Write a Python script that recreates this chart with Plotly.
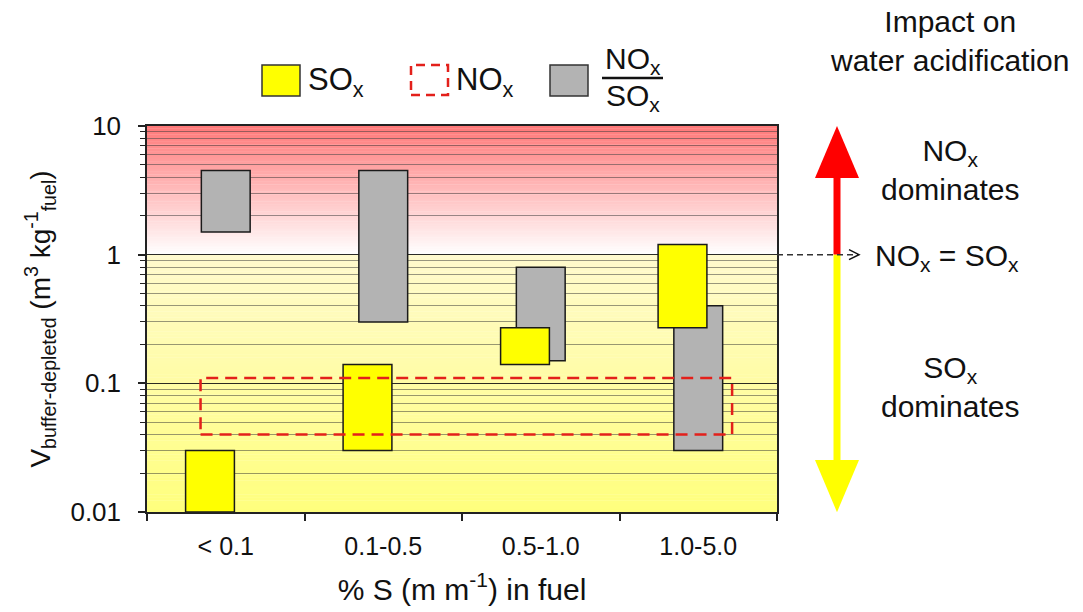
import numpy as np
import plotly.graph_objects as go

# ---------------- data ----------------
categories = ["< 0.1", "0.1-0.5", "0.5-1.0", "1.0-5.0"]
sox_low = [0.01, 0.03, 0.14, 0.27]
sox_high = [0.03, 0.14, 0.27, 1.2]
ratio_low = [1.5, 0.3, 0.15, 0.03]
ratio_high = [4.5, 4.5, 0.8, 0.4]
nox_range = [0.04, 0.11]
y_tick_values = [0.01, 0.1, 1, 10]
y_tick_labels = ["0.01", "0.1", "1", "10"]

# ---------------- layout geometry ----------------
W, H = 1083, 612
L, R, T, B = 147, 777, 126, 512
YMIN, YMAX = -2, 1
FONT = "Liberation Sans, Arial, sans-serif"


def px(x):
    return (x - L) / (R - L)


def py(y):
    return (B - y) / (B - T)


def yfrac(v):
    return (np.log10(v) - YMIN) / (YMAX - YMIN)


fig = go.Figure()

idx = np.arange(len(categories))
ratio_h = np.array(ratio_high) - np.array(ratio_low)
sox_h = np.array(sox_high) - np.array(sox_low)

fig.add_trace(go.Bar(
    x=idx + 0.5, y=ratio_h, base=ratio_low, width=0.31,
    marker=dict(color="#b3b3b3", line=dict(color="#1a1a1a", width=1.5)),
    name="NOx/SOx", showlegend=False, hoverinfo="skip"))
fig.add_trace(go.Bar(
    x=idx + 0.4, y=sox_h, base=sox_low, width=0.31,
    marker=dict(color="#ffff00", line=dict(color="#1a1a1a", width=1.5)),
    name="SOx", showlegend=False, hoverinfo="skip"))

nx0, nx1 = 0.34, 3.715
fig.add_trace(go.Scatter(
    x=[nx0, nx1, nx1, nx0, nx0],
    y=[nox_range[0], nox_range[0], nox_range[1], nox_range[1], nox_range[0]],
    mode="lines", line=dict(color="#e3201b", width=2.5, dash="12px,7px"),
    showlegend=False, hoverinfo="skip"))

shapes = []
# background gradients (paper coords, below grid)
N = 90
top_red = np.array([255, 120, 120])
bot_red = np.array([255, 255, 255])
top_yel = np.array([255, 250, 205])
bot_yel = np.array([255, 255, 125])
f1 = yfrac(1.0)
for i in range(N):
    a0 = f1 + (1 - f1) * i / N
    a1 = f1 + (1 - f1) * (i + 1) / N
    t = (i + 0.5) / N
    c = bot_red + (top_red - bot_red) * t
    shapes.append(dict(type="rect", xref="paper", yref="paper", x0=0, x1=1, y0=a0, y1=a1 + 0.001,
                       fillcolor="rgb(%d,%d,%d)" % tuple(c.round()), line=dict(width=0), layer="below"))
for i in range(N):
    a0 = f1 * i / N
    a1 = f1 * (i + 1) / N
    t = (i + 0.5) / N
    c = bot_yel + (top_yel - bot_yel) * t
    shapes.append(dict(type="rect", xref="paper", yref="paper", x0=0, x1=1, y0=a0, y1=a1 + 0.001,
                       fillcolor="rgb(%d,%d,%d)" % tuple(c.round()), line=dict(width=0), layer="below"))

# legend
shapes.append(dict(type="rect", xref="paper", yref="paper", x0=px(262), x1=px(300), y0=py(96), y1=py(65),
                   fillcolor="#ffff00", line=dict(color="#333", width=1.5)))
shapes.append(dict(type="rect", xref="paper", yref="paper", x0=px(411), x1=px(448), y0=py(95), y1=py(65),
                   fillcolor="rgba(0,0,0,0)", line=dict(color="#e3201b", width=2.5, dash="9px,6px")))
shapes.append(dict(type="rect", xref="paper", yref="paper", x0=px(550), x1=px(588), y0=py(96), y1=py(65),
                   fillcolor="#b3b3b3", line=dict(color="#333", width=1.5)))
shapes.append(dict(type="line", xref="paper", yref="paper", x0=px(602), x1=px(663), y0=py(78), y1=py(78),
                   line=dict(color="#111", width=2.5)))

# impact arrows (right side)
ax_x = px(837)
hw = 22 / (R - L)
shapes.append(dict(type="line", xref="paper", yref="paper", x0=ax_x, x1=ax_x, y0=yfrac(1.0), y1=py(176),
                   line=dict(color="#ff0000", width=7)))
shapes.append(dict(type="path", xref="paper", yref="paper",
                   path="M %f,%f L %f,%f L %f,%f Z" % (ax_x, yfrac(10.0), ax_x - hw, py(178), ax_x + hw, py(178)),
                   fillcolor="#ff0000", line=dict(width=0)))
shapes.append(dict(type="line", xref="paper", yref="paper", x0=ax_x, x1=ax_x, y0=yfrac(1.0), y1=py(462),
                   line=dict(color="#ffff00", width=7)))
shapes.append(dict(type="path", xref="paper", yref="paper",
                   path="M %f,%f L %f,%f L %f,%f Z" % (ax_x, yfrac(0.01) - 0.0005, ax_x - hw, py(460), ax_x + hw, py(460)),
                   fillcolor="#ffff00", line=dict(width=0)))
# dashed pointer at NOx = SOx
shapes.append(dict(type="line", xref="paper", yref="paper", x0=1.0, x1=px(858), y0=yfrac(1.0), y1=yfrac(1.0),
                   line=dict(color="#333", width=1.5, dash="6px,4px")))
shapes.append(dict(type="path", xref="paper", yref="paper",
                   path="M %f,%f L %f,%f L %f,%f" % (px(849), yfrac(1.0) + 5 / (B - T), px(859), yfrac(1.0),
                                                     px(849), yfrac(1.0) - 5 / (B - T)),
                   line=dict(color="#111", width=1.5)))

annotations = []


def add_text(text, x, y, size, xanchor="center", yanchor="middle"):
    annotations.append(dict(text=text, x=px(x), y=py(y), xref="paper", yref="paper", showarrow=False,
                            xanchor=xanchor, yanchor=yanchor, align="center",
                            font=dict(family=FONT, size=size, color="#111")))


add_text("SO<sub>x</sub>", 306, 82, 31, xanchor="left")
add_text("NO<sub>x</sub>", 454, 82, 31, xanchor="left")
add_text("NO<sub>x</sub>", 633, 60, 30)
add_text("SO<sub>x</sub>", 633, 98, 30)
add_text("Impact on<br>water acidification", 949, 41, 30)
add_text("NO<sub>x</sub><br>dominates", 950, 170, 30)
add_text("NO<sub>x</sub> = SO<sub>x</sub>", 873, 257, 30, xanchor="left")
add_text("SO<sub>x</sub><br>dominates", 950, 387, 30)

minor_y = [m * 10.0 ** e for e in range(YMIN, YMAX) for m in range(2, 10)]

fig.update_layout(
    width=W, height=H,
    margin=dict(l=L, r=W - R, t=T, b=H - B, autoexpand=False),
    paper_bgcolor="white", plot_bgcolor="white",
    barmode="overlay", showlegend=False,
    font=dict(family=FONT, color="#111"),
    shapes=shapes, annotations=annotations,
    xaxis=dict(
        range=[0, 4], tickmode="array", tickvals=list(idx + 0.5), ticktext=categories,
        ticks="", showgrid=False, zeroline=False,
        showline=True, linecolor="#222", linewidth=1.5, mirror=True,
        tickfont=dict(family=FONT, size=25, color="#111"), ticklabelstandoff=11,
        minor=dict(tickmode="array", tickvals=[0, 1, 2, 3, 4], ticks="outside", ticklen=7,
                   tickcolor="#222", tickwidth=1.5, showgrid=False),
        title=dict(text="% S (m m<sup>-1</sup>) in fuel", font=dict(family=FONT, size=30, color="#111"),
                   standoff=20),
        fixedrange=True,
    ),
    yaxis=dict(
        type="log", range=[YMIN, YMAX], tickmode="array", tickvals=y_tick_values, ticktext=y_tick_labels,
        ticks="outside", ticklen=7, tickcolor="#222", tickwidth=1.5,
        showgrid=True, gridcolor="rgba(20,20,20,0.9)", gridwidth=1.4, zeroline=False,
        showline=True, linecolor="#222", linewidth=1.5, mirror=True,
        tickfont=dict(family=FONT, size=26, color="#111"), ticklabelstandoff=12,
        minor=dict(tickmode="array", tickvals=minor_y, ticks="outside", ticklen=5, tickcolor="#222",
                   tickwidth=1, showgrid=True, gridcolor="rgba(50,50,50,0.5)", gridwidth=1.2),
        title=dict(text="V<sub>buffer-depleted</sub> (m<sup>3</sup> kg<sup>-1</sup><sub>fuel</sub>)",
                   font=dict(family=FONT, size=28, color="#111"), standoff=12),
        fixedrange=True,
    ),
)

fig.write_html("out.html")
